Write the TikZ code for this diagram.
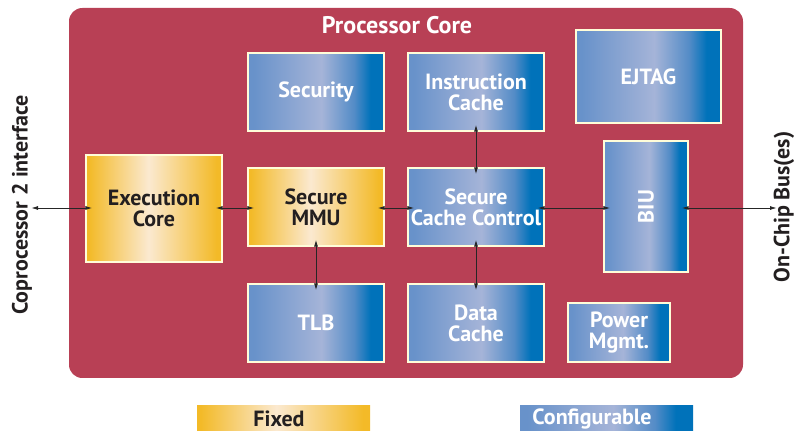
\documentclass[tikz,border=0pt]{standalone}
\usepackage{fontspec}
\setmainfont{PT Sans}
\usetikzlibrary{arrows.meta}
\definecolor{corered}{RGB}{184,64,85}
\definecolor{bl}{RGB}{104,146,202}
\definecolor{blm}{RGB}{165,180,216}
\definecolor{blr}{RGB}{0,114,186}
\definecolor{yl}{RGB}{243,186,40}
\definecolor{ylm}{RGB}{251,233,208}
\definecolor{txtdark}{RGB}{35,31,32}
\pgfdeclarehorizontalshading{cfgshade}{100bp}{color(0bp)=(bl); color(27bp)=(bl); color(52bp)=(blm); color(64bp)=(bl!80!blr); color(70bp)=(blr); color(100bp)=(blr)}
\pgfdeclarehorizontalshading{fixshade}{100bp}{color(0bp)=(yl); color(26bp)=(yl); color(48bp)=(ylm); color(73bp)=(yl); color(100bp)=(yl)}
\tikzset{
  base/.style={rectangle, inner sep=0pt, align=center, font=\bfseries\fontsize{16.5}{15.8}\selectfont, draw=white!85!yellow, line width=0.8pt},
  cfg/.style={base, shading=cfgshade, text=white},
  fix/.style={base, shading=fixshade, text=txtdark},
  arr/.style={{Latex[length=5pt,width=3pt]}-{Latex[length=5pt,width=3pt]}, line width=0.6pt, black!85, shorten <=-5pt, shorten >=-5pt},
  lbl/.style={font=\bfseries\fontsize{16.5}{16}\selectfont, text=txtdark, rotate=90}
}
\begin{document}
\begin{tikzpicture}[x=0.75pt,y=-0.75pt]
\useasboundingbox (0,0) rectangle (794,431);
\fill[corered, rounded corners=10pt] (69,8) rectangle (743,378);
\node[font=\bfseries\fontsize{18}{18}\selectfont, text=white] (title) at (397,25) {Processor Core};
\node[cfg, minimum width=102pt, minimum height=58.5pt] (sec) at (316,92) {Security};
\node[cfg, minimum width=102pt, minimum height=58.5pt] (ic) at (476,92) {Instruction\\Cache};
\node[cfg, minimum width=108.75pt, minimum height=69.75pt] (ejtag) at (648.5,76.5) {EJTAG};
\node[fix, minimum width=102pt, minimum height=80.25pt] (exec) at (154,208.5) {Execution\\Core};
\node[fix, minimum width=102pt, minimum height=58.5pt] (mmu) at (316,207) {Secure\\MMU};
\node[cfg, minimum width=102pt, minimum height=58.5pt] (scc) at (476,207) {Secure\\Cache Control};
\node[cfg, minimum width=63pt, minimum height=98.25pt] (biu) at (646,206.5) {\rotatebox{90}{BIU}};
\node[cfg, minimum width=102pt, minimum height=58.5pt] (tlb) at (316,323) {TLB};
\node[cfg, minimum width=102pt, minimum height=58.5pt] (dc) at (476,323) {Data\\Cache};
\node[cfg, minimum width=76.5pt, minimum height=44.25pt] (pm) at (619,332.5) {Power\\Mgmt.};
\node[fix, draw=none, minimum width=129.75pt, minimum height=19.5pt] (lfix) at (283.5,418.5) {};
\node[text=txtdark, font=\bfseries\fontsize{16.5}{16}\selectfont] (lfixt) at (279,419) {Fixed};
\node[cfg, draw=none, minimum width=129.75pt, minimum height=19.5pt] (lcfg) at (606.5,418.5) {};
\node[text=white, font=\bfseries\fontsize{16.5}{16}\selectfont] (lcfgt) at (592,419) {Configurable};
\node[lbl] (cop) at (22,205) {Coprocessor 2 interface};
\node[lbl] (bus) at (784,207) {On-Chip Bus(es)};
\coordinate (cpL) at (38,208);
\coordinate (busR) at (770,208);
\draw[arr] (cpL) -- (exec.west |- cpL);
\draw[arr] (exec.east |- cpL) -- (mmu.west |- cpL);
\draw[arr] (mmu.east |- cpL) -- (scc.west |- cpL);
\draw[arr] (scc.east |- cpL) -- (biu.west |- cpL);
\draw[arr] (biu.east |- cpL) -- (busR);
\draw[arr] (ic.south) -- (scc.north);
\draw[arr] (scc.south) -- (dc.north);
\draw[arr] (mmu.south) -- (tlb.north);
\end{tikzpicture}
\end{document}
